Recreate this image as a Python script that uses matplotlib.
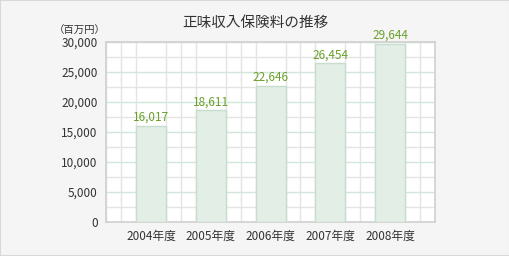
"""Net premiums written, 2004-2008."""

import matplotlib
matplotlib.use("Agg")
import matplotlib.pyplot as plt
from matplotlib.patches import Rectangle
import numpy as np

years = ["2004年度", "2005年度", "2006年度", "2007年度", "2008年度"]
premiums = [16017, 18611, 22646, 26454, 29644]
y_ticks = [0, 5000, 10000, 15000, 20000, 25000, 30000]

plt.rcParams["font.family"] = ["Noto Sans CJK JP", "DejaVu Sans"]


def main():
    fig = plt.figure(figsize=(5.1, 2.56), dpi=100, facecolor="#f5f5f5")
    fig.patches.append(Rectangle((0, 0), 1, 1, transform=fig.transFigure,
                                 fill=False, edgecolor="#d9d9d9", lw=1.5))
    ax = fig.add_axes([0.208, 0.133, 0.645, 0.703])
    ax.set_facecolor("white")

    x = np.arange(len(years))
    ax.set_xlim(-0.75, len(years) - 0.25)
    ax.set_ylim(0, 30000)

    # grid: grey minor, greenish every 5000
    ax.set_xticks(np.arange(-0.75, len(years) - 0.2, 0.25), minor=True)
    ax.set_yticks(np.arange(0, 30001, 2500), minor=True)
    ax.grid(which="minor", color="#e4e4e4", lw=1)
    ax.set_yticks(y_ticks)
    ax.set_yticklabels([f"{v:,}" for v in y_ticks])
    ax.yaxis.grid(True, which="major", color="#d3e6db", lw=1)
    ax.set_axisbelow(True)

    ax.bar(x, premiums, width=0.5, color="#e3eee6", edgecolor="#c6ddcf",
           lw=1, zorder=3)
    for xi, v in zip(x, premiums):
        ax.text(xi, v + 350, f"{v:,}", ha="center", va="bottom",
                color="#6a9f2a", fontsize=8.5, zorder=4)

    ax.set_xticks(x)
    ax.set_xticklabels(years)
    ax.tick_params(which="both", length=0, labelsize=8.5, colors="#333333")
    ax.tick_params(axis="x", pad=6)
    ax.tick_params(axis="y", pad=6)
    for s in ax.spines.values():
        s.set_color("#d0d0d0")
        s.set_linewidth(1.2)

    fig.text(0.5, 0.91, "正味収入保険料の推移", ha="center", va="center",
             fontsize=10.5, color="#333333")
    fig.text(0.157, 0.88, "（百万円）", ha="center", va="center",
             fontsize=7.5, color="#333333")

    fig.savefig("out.png", dpi=100, facecolor=fig.get_facecolor())


if __name__ == "__main__":
    main()
